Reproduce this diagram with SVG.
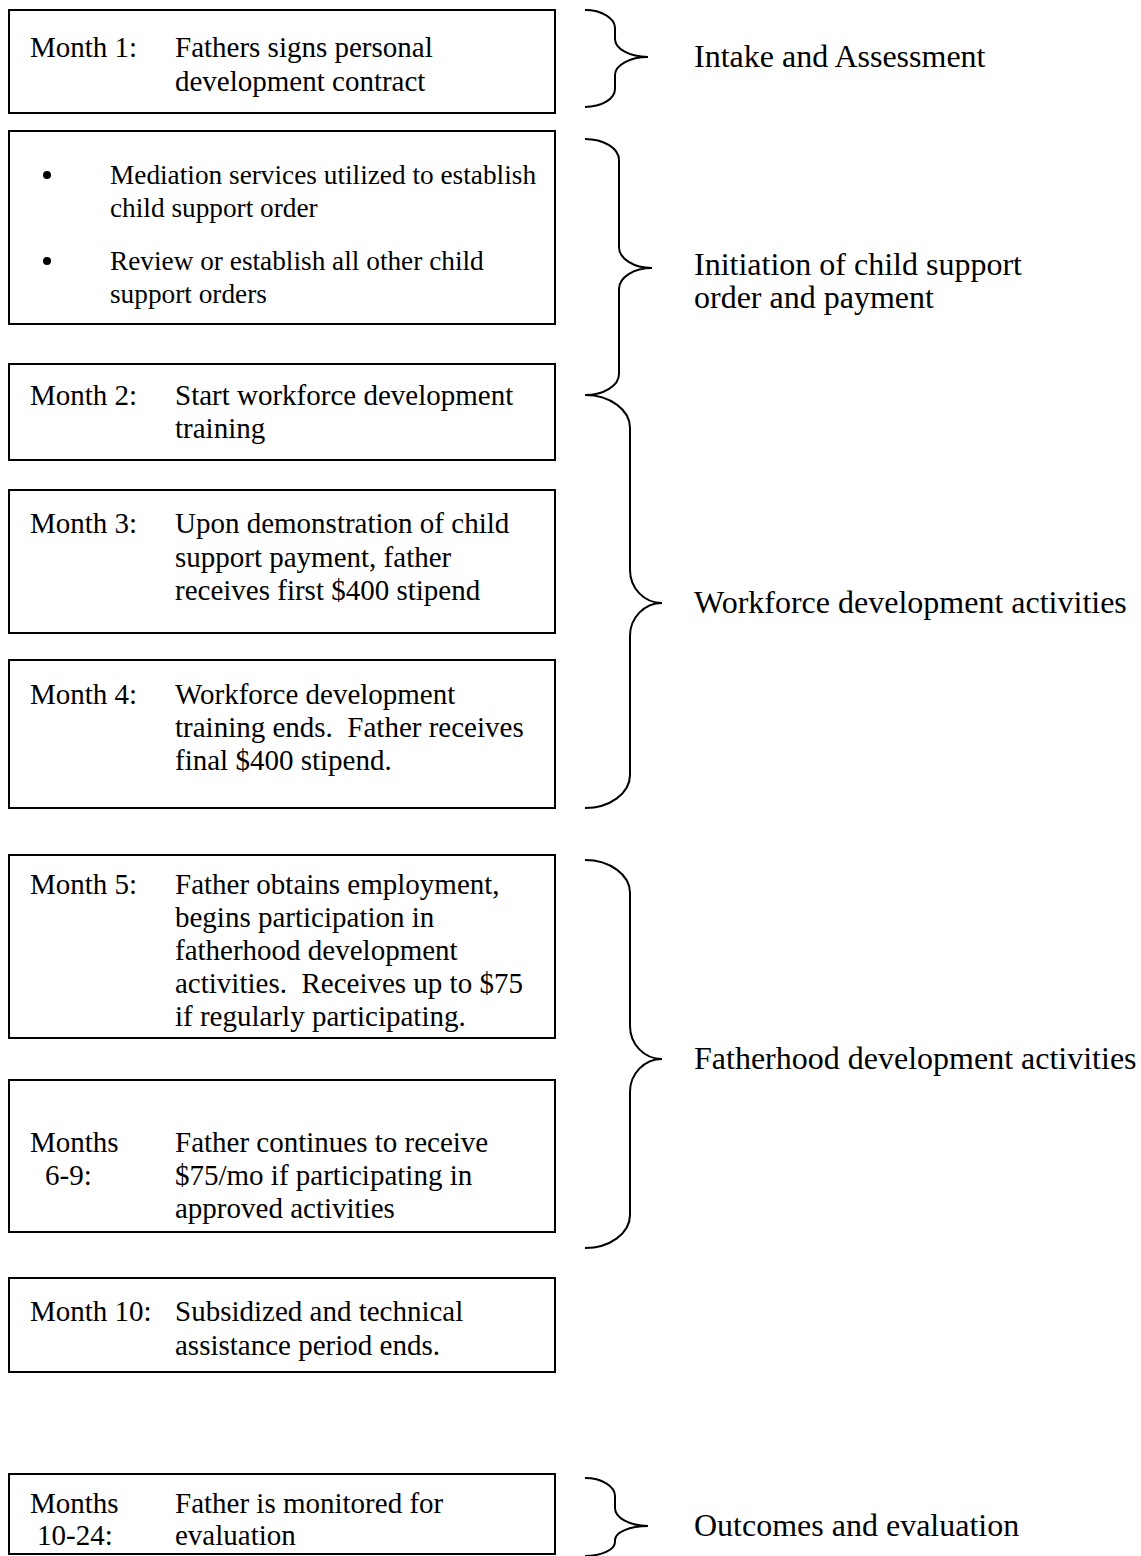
<svg xmlns="http://www.w3.org/2000/svg" width="1141" height="1556" viewBox="0 0 1141 1556">
<style>
.box{fill:#fff;stroke:#000;stroke-width:2}
.t{font-family:"Liberation Serif","Times New Roman",serif;font-size:29px;fill:#000}
.b{font-family:"Liberation Serif","Times New Roman",serif;font-size:27.3px;fill:#000}
.lab{font-family:"Liberation Serif","Times New Roman",serif;font-size:32px;fill:#000}
.brace{fill:none;stroke:#000;stroke-width:2}
</style>
<rect width="1141" height="1556" fill="#fff"/>
<g id="n1"><rect class="box" x="9" y="10" width="546" height="103"/>
<text class="t" x="30" y="57">Month 1:</text>
<text class="t" x="175" y="57">Fathers signs personal</text>
<text class="t" x="175" y="91">development contract</text></g>
<g id="n2"><rect class="box" x="9" y="131" width="546" height="193"/>
<circle cx="47" cy="175" r="4"/><circle cx="47" cy="261" r="4"/>
<text class="b" x="110" y="184">Mediation services utilized to establish</text>
<text class="b" x="110" y="217">child support order</text>
<text class="b" x="110" y="270">Review or establish all other child</text>
<text class="b" x="110" y="303">support orders</text></g>
<g id="n3"><rect class="box" x="9" y="364" width="546" height="96"/>
<text class="t" x="30" y="405">Month 2:</text>
<text class="t" x="175" y="405">Start workforce development</text>
<text class="t" x="175" y="438">training</text></g>
<g id="n4"><rect class="box" x="9" y="490" width="546" height="143"/>
<text class="t" x="30" y="533">Month 3:</text>
<text class="t" x="175" y="533">Upon demonstration of child</text>
<text class="t" x="175" y="567">support payment, father</text>
<text class="t" x="175" y="600">receives first $400 stipend</text></g>
<g id="n5"><rect class="box" x="9" y="660" width="546" height="148"/>
<text class="t" x="30" y="704">Month 4:</text>
<text class="t" x="175" y="704">Workforce development</text>
<text class="t" x="175" y="737" xml:space="preserve">training ends.  Father receives</text>
<text class="t" x="175" y="770">final $400 stipend.</text></g>
<g id="n6"><rect class="box" x="9" y="855" width="546" height="183"/>
<text class="t" x="30" y="894">Month 5:</text>
<text class="t" x="175" y="894">Father obtains employment,</text>
<text class="t" x="175" y="927">begins participation in</text>
<text class="t" x="175" y="960">fatherhood development</text>
<text class="t" x="175" y="993" xml:space="preserve">activities.  Receives up to $75</text>
<text class="t" x="175" y="1026">if regularly participating.</text></g>
<g id="n7"><rect class="box" x="9" y="1080" width="546" height="152"/>
<text class="t" x="30" y="1152">Months</text>
<text class="t" x="45" y="1185">6-9:</text>
<text class="t" x="175" y="1152">Father continues to receive</text>
<text class="t" x="175" y="1185">$75/mo if participating in</text>
<text class="t" x="175" y="1218">approved activities</text></g>
<g id="n8"><rect class="box" x="9" y="1278" width="546" height="94"/>
<text class="t" x="30" y="1321">Month 10:</text>
<text class="t" x="175" y="1321">Subsidized and technical</text>
<text class="t" x="175" y="1355">assistance period ends.</text></g>
<g id="n9"><rect class="box" x="9" y="1474" width="546" height="80"/>
<text class="t" x="30" y="1513">Months</text>
<text class="t" x="37" y="1545">10-24:</text>
<text class="t" x="175" y="1513">Father is monitored for</text>
<text class="t" x="175" y="1545">evaluation</text></g>
<g id="connectors">
<path class="brace" d="M585,10 A30,18 0 0 1 615,28 L615,39 A33,18 0 0 0 648,57 A33,18 0 0 0 615,75 L615,89 A30,18 0 0 1 585,107"/>
<path class="brace" d="M585,139 A34,21 0 0 1 619,160 L619,247 A33,21 0 0 0 652,268 A33,21 0 0 0 619,289 L619,374 A34,21 0 0 1 585,395"/>
<path class="brace" d="M585,395 A45,33 0 0 1 630,428 L630,570 A32,33 0 0 0 662,603 A32,33 0 0 0 630,636 L630,775 A45,33 0 0 1 585,808"/>
<path class="brace" d="M585,860 A45,33 0 0 1 630,893 L630,1026 A32,33 0 0 0 662,1059 A32,33 0 0 0 630,1092 L630,1215 A45,33 0 0 1 585,1248"/>
<path class="brace" d="M585,1478 A30,18 0 0 1 615,1496 L615,1508 A33,18 0 0 0 648,1526 A33,14 0 0 0 615,1540 L615,1542 A30,14 0 0 1 585,1556"/>
</g>
<text class="lab" x="694" y="67">Intake and Assessment</text>
<text class="lab" x="694" y="275">Initiation of child support</text>
<text class="lab" x="694" y="308">order and payment</text>
<text class="lab" x="694" y="613">Workforce development activities</text>
<text class="lab" x="694" y="1069">Fatherhood development activities</text>
<text class="lab" x="694" y="1536">Outcomes and evaluation</text>
</svg>
